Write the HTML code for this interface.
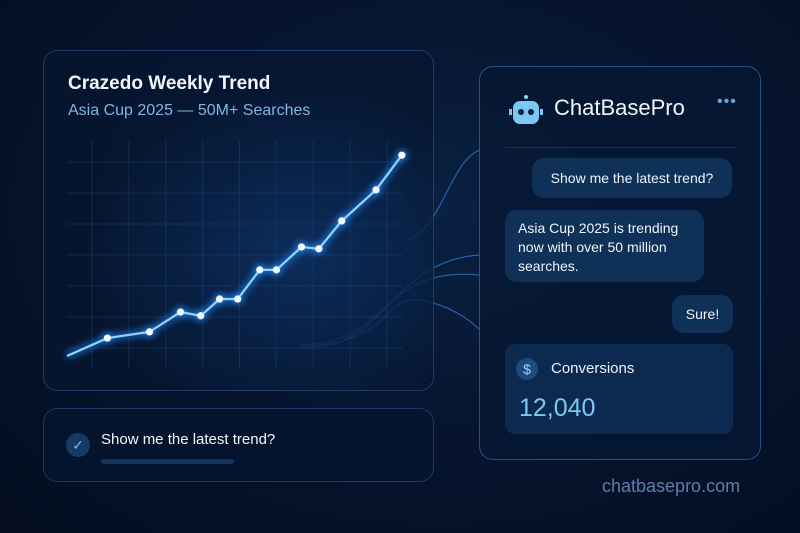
<!DOCTYPE html>
<html><head><meta charset="utf-8"><style>
*{margin:0;padding:0;box-sizing:border-box}
body{width:800px;height:533px;overflow:hidden;background:radial-gradient(ellipse at 55% 40%,#0a2142 0%,#061530 45%,#040d1f 100%);font-family:"Liberation Sans",sans-serif;position:relative;color:#fff}
.card{position:absolute;border:1px solid rgba(70,130,210,.35);border-radius:14px;background:rgba(6,22,48,.75)}
.abs{position:absolute}
</style></head><body>
<svg class="abs" style="left:0;top:0" width="800" height="533">
<g fill="none" stroke="#2f7fd8" stroke-width="1.2" opacity=".7">
<path d="M405,240 C440,235 450,160 480,150"/>
<path d="M330,345 C390,330 400,260 480,255"/>
<path d="M300,345 C390,345 380,265 480,275"/>
<path d="M300,348 C400,340 380,295 420,300 C450,305 470,320 480,330"/>
</g></svg>

<div class="card" style="left:43px;top:50px;width:391px;height:341px;background:radial-gradient(ellipse at 65% 60%,rgba(14,50,100,.8) 0%,rgba(6,22,48,.8) 60%)">
<div class="abs" style="left:24px;top:22px;font-size:19px;font-weight:bold;color:#f2f6fb">Crazedo Weekly Trend</div>
<div class="abs" style="left:24px;top:51px;font-size:16px;color:#7fb6e4">Asia Cup 2025 — 50M+ Searches</div>
</div>
<svg id="chart" class="abs" style="left:0;top:0" width="800" height="533">
<defs><filter id="glow" x="-50%" y="-50%" width="200%" height="200%"><feGaussianBlur in="SourceGraphic" stdDeviation="4" result="b"/><feFlood flood-color="#2a8cff" result="f"/><feComposite in="f" in2="b" operator="in" result="cb"/><feMerge><feMergeNode in="cb"/><feMergeNode in="cb"/><feMergeNode in="SourceGraphic"/></feMerge></filter></defs>
<g id="grid"></g><g id="series" filter="url(#glow)"></g>
</svg>

<div class="card" style="left:43px;top:408px;width:391px;height:74px">
<div class="abs" style="left:22px;top:24px;width:24px;height:24px;border-radius:50%;background:#143a66;color:#7fb6e4;font-size:14px;text-align:center;line-height:24px">✓</div>
<div class="abs" style="left:57px;top:22px;font-size:15px;color:#f2f6fb">Show me the latest trend?</div>
<div class="abs" style="left:57px;top:50px;width:133px;height:5px;border-radius:3px;background:#14355e"></div>
</div>

<div class="card" style="left:479px;top:66px;width:282px;height:394px;background:rgba(6,24,52,.85);border-color:rgba(70,140,220,.5)">
<div class="abs" style="left:29px;top:30px;width:32px;height:30px">
<div class="abs" style="left:15px;top:-2px;width:4px;height:4px;border-radius:50%;background:#8fd0ff"></div>
<div class="abs" style="left:4px;top:4px;width:26px;height:23px;border-radius:7px;background:#7cc8f5"></div>
<div class="abs" style="left:9px;top:12px;width:6px;height:6px;border-radius:50%;background:#0a1f3c"></div>
<div class="abs" style="left:19px;top:12px;width:6px;height:6px;border-radius:50%;background:#0a1f3c"></div>
<div class="abs" style="left:0;top:12px;width:3px;height:6px;background:#7cc8f5"></div>
<div class="abs" style="left:31px;top:12px;width:3px;height:6px;background:#7cc8f5"></div>
</div>
<div class="abs" style="left:74px;top:28px;font-size:22px;color:#f2f6fb">ChatBasePro</div>
<div class="abs" style="left:237px;top:26px;font-size:16px;color:#6ea6d8;letter-spacing:1px">•••</div>
<div class="abs" style="left:25px;top:80px;width:231px;height:1px;background:#153158"></div>
<div class="abs" style="left:52px;top:91px;width:200px;height:40px;border-radius:12px;background:#0f3158;font-size:14px;line-height:40px;text-align:center;color:#eef4fb">Show me the latest trend?</div>
<div class="abs" style="left:25px;top:143px;width:199px;height:72px;border-radius:12px;background:#0f3158;font-size:14px;line-height:19px;padding:9px 13px;color:#eef4fb">Asia Cup 2025 is trending now with over 50 million searches.</div>
<div class="abs" style="left:192px;top:228px;width:61px;height:38px;border-radius:12px;background:#0f3158;font-size:14px;line-height:38px;text-align:center;color:#eef4fb">Sure!</div>
<div class="abs" style="left:25px;top:277px;width:228px;height:90px;border-radius:10px;background:#0c2a4f">
<div class="abs" style="left:11px;top:14px;width:22px;height:22px;border-radius:50%;background:#1d4b7e;color:#a8d4f5;font-size:14px;text-align:center;line-height:22px">$</div>
<div class="abs" style="left:46px;top:16px;font-size:15px;color:#eef4fb">Conversions</div>
<div class="abs" style="left:14px;top:50px;font-size:25px;color:#7cc8f5">12,040</div>
</div>
</div>
<div class="abs" style="left:602px;top:476px;font-size:18px;color:#5d7fa8">chatbasepro.com</div>

<script>
const weeks=[1.42,2.56,3.4,3.95,4.46,4.95,5.55,6.0,6.68,7.15,7.77,8.7,9.4];
const searches=[1.6,2.6,5.8,5.2,7.9,7.9,12.6,12.6,16.3,16.0,20.5,25.5,31.1];
const gridWeeks=[1,2,3,4,5,6,7,8,9];
const gridValues=[0,5,10,15,20,25,30];
const xS=v=>55+36.9*v, yS=v=>348-6.2*v;
const NS='http://www.w3.org/2000/svg';
const grid=document.getElementById('grid'), ser=document.getElementById('series');
gridWeeks.forEach(w=>{const l=document.createElementNS(NS,'line');


l.setAttribute('x1',xS(w));l.setAttribute('x2',xS(w));l.setAttribute('y1',140);l.setAttribute('y2',369);l.setAttribute('stroke','#1a4a85');l.setAttribute('stroke-opacity','.4');grid.appendChild(l);});
gridValues.forEach(v=>{const l=document.createElementNS(NS,'line');


l.setAttribute('x1',67);l.setAttribute('x2',403);l.setAttribute('y1',yS(v));l.setAttribute('y2',yS(v));l.setAttribute('stroke','#1a4a85');l.setAttribute('stroke-opacity','.4');grid.appendChild(l);});
let d='M67,356 L'+xS(weeks[0])+','+yS(searches[0]);
weeks.forEach((w,i)=>{if(i)d+=' L'+xS(w)+','+yS(searches[i]);});
const p=document.createElementNS(NS,'path');


p.setAttribute('d',d);p.setAttribute('fill','none');p.setAttribute('stroke','#8fd4ff');p.setAttribute('stroke-width','2.2');ser.appendChild(p);
weeks.forEach((w,i)=>{const c=document.createElementNS(NS,'circle');


c.setAttribute('cx',xS(w));c.setAttribute('cy',yS(searches[i]));c.setAttribute('r',3.6);c.setAttribute('fill','#f4fbff');ser.appendChild(c);});
</script>
</body></html>
